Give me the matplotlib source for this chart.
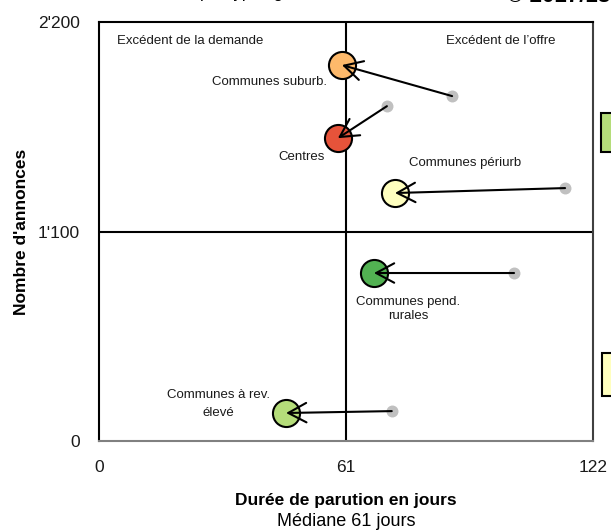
import matplotlib
matplotlib.use("Agg")
import matplotlib.pyplot as plt
from matplotlib.patches import FancyArrowPatch, Rectangle

plt.rcParams['font.family'] = ['Liberation Sans', 'DejaVu Sans']

# ---- data ----
categories = ["Communes suburb.", "Centres", "Communes périurb",
              "Communes pend.\nrurales", "Communes à rev.\nélevé"]
dur_new = [60.0, 59.0, 73.1, 67.9, 46.2]
ann_new = [1974, 1590, 1302, 882, 147]
dur_old = [87.2, 71.1, 115.1, 102.5, 72.3]
ann_old = [1811, 1758, 1328, 882, 157]
colors = ["#FDB96B", "#E6533A", "#FFFFBF", "#52B152", "#B5DD7A"]

x_ticks = [0, 61, 122]
x_tick_labels = ["0", "61", "122"]
y_ticks = [0, 1100, 2200]
y_tick_labels = ["0", "1'100", "2'200"]
median_x = 61
median_y = 1100

# label positions (data coords) and alignment
label_pos = [(56.3, 1885, 'right', 1.2), (55.8, 1491, 'right', 1.2),
             (90.4, 1459, 'center', 1.2), (76.3, 693, 'center', 1.3),
             (29.6, 194, 'center', 1.75)]

fig = plt.figure(figsize=(6.11, 5.31), dpi=100)
ax = fig.add_axes([99/611, 90/531, 494/611, 419/531])
ax.set_xlim(0, 122)
ax.set_ylim(0, 2200)

ax.axvline(median_x, color='black', lw=1.5, zorder=1)
ax.axhline(median_y, color='black', lw=1.5, zorder=1)

for i in range(len(categories)):
    ax.plot(dur_old[i], ann_old[i], 'o', ms=8.6, color='#C0C0C0',
            mec='none', zorder=3)
    ax.plot(dur_new[i], ann_new[i], 'o', ms=19.5, color=colors[i],
            mec='black', mew=1.5, zorder=4)
    arr = FancyArrowPatch((dur_old[i], ann_old[i]), (dur_new[i], ann_new[i]),
                          arrowstyle='->,head_length=13,head_width=7',
                          mutation_scale=1, shrinkA=0, shrinkB=0,
                          lw=1.5, color='black', zorder=5)
    ax.add_patch(arr)
    lx, ly, ha, ls = label_pos[i]
    ax.text(lx, ly, categories[i], ha=ha, va='center', fontsize=9.5,
            linespacing=ls, color='#1a1a1a', zorder=6)

ax.text(4.4, 2100, "Excédent de la demande", ha='left', va='center',
        fontsize=9.5, color='#1a1a1a')
ax.text(112.8, 2100, "Excédent de l\u2019offre", ha='right', va='center',
        fontsize=9.5, color='#1a1a1a')

ax.set_xticks(x_ticks)
ax.set_xticklabels(x_tick_labels)
ax.set_yticks(y_ticks)
ax.set_yticklabels(y_tick_labels)
ax.tick_params(axis='both', length=0, labelsize=12.5, labelcolor='#1a1a1a')
ax.tick_params(axis='x', pad=14)
ax.tick_params(axis='y', pad=14)

for s in ['left', 'top']:
    ax.spines[s].set_color('black')
    ax.spines[s].set_linewidth(1.5)
ax.spines['right'].set_color('#404040')
ax.spines['right'].set_linewidth(1.5)
ax.spines['bottom'].set_color('#808080')
ax.spines['bottom'].set_linewidth(1.5)

ax.set_ylabel("Nombre d'annonces", fontsize=12.5, fontweight='bold')
ax.yaxis.set_label_coords(-0.142, 0.5)
fig.text(346/611, 1 - 500/531, "Durée de parution en jours", ha='center',
         va='center', fontsize=12.5, fontweight='bold')
fig.text(346/611, 1 - 521/531, "Médiane 61 jours", ha='center',
         va='center', fontsize=13)

# clipped elements at figure edges (cut off in the reference as well)
fig.text(200/611, 1 + 2/531, "par typologie", ha='left', va='baseline',
         fontsize=12)
fig.text(507/611, 1 - 2/531, "\u00a9 2017/18", ha='left', va='baseline',
         fontsize=16, fontweight='bold')
fig.patches.append(Rectangle((601/611, 1 - 152/531), 30/611, 39/531,
                             transform=fig.transFigure, facecolor='#B5DD7A',
                             edgecolor='black', lw=1.5))
fig.patches.append(Rectangle((602/611, 1 - 396/531), 30/611, 43/531,
                             transform=fig.transFigure, facecolor='#FFFFBF',
                             edgecolor='black', lw=1.5))

fig.savefig("out.png", dpi=100)
